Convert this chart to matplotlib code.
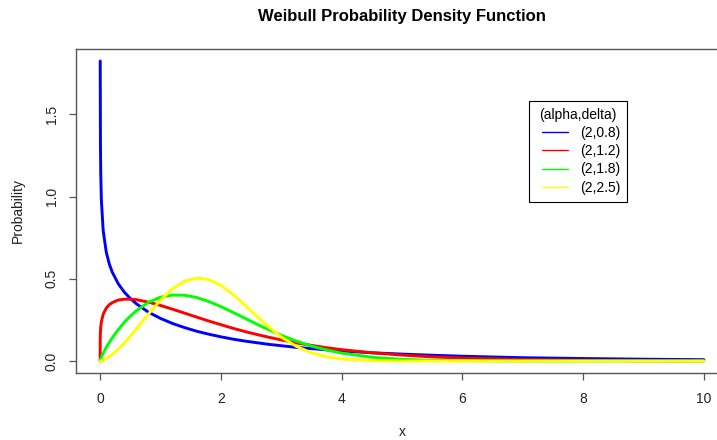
import numpy as np
import matplotlib.pyplot as plt
from matplotlib.lines import Line2D
from matplotlib.legend_handler import HandlerLine2D

plt.rcParams['font.family'] = ['Liberation Sans', 'DejaVu Sans']

# density values, alpha = 2 (scale), delta = shape
x = [0, 0.001, 0.005, 0.01, 0.02, 0.05, 0.1, 0.15, 0.2, 0.3, 0.4, 0.5, 0.6, 0.8,
     1.0, 1.2, 1.4, 1.6, 1.8, 2.0, 2.2, 2.4, 2.6, 2.8, 3.0, 3.25, 3.5, 3.75,
     4.0, 4.5, 5.0, 5.5, 6, 7, 8, 9, 10]

d08 = [np.nan, 1.825, 1.315, 1.138, 0.980, 0.794, 0.665, 0.592, 0.541, 0.470,
       0.419, 0.380, 0.348, 0.297, 0.259, 0.228, 0.203, 0.181, 0.163, 0.147,
       0.133, 0.121, 0.111, 0.101, 0.093, 0.083, 0.075, 0.068, 0.061, 0.050,
       0.042, 0.035, 0.029, 0.020, 0.015, 0.011, 0.008]
d12 = [0, 0.131, 0.181, 0.208, 0.238, 0.284, 0.321, 0.342, 0.355, 0.371,
       0.376, 0.376, 0.373, 0.358, 0.338, 0.315, 0.291, 0.267, 0.243, 0.221,
       0.199, 0.179, 0.161, 0.144, 0.128, 0.110, 0.095, 0.081, 0.069, 0.050,
       0.036, 0.025, 0.018, 0.009, 0.004, 0.002, 0.001]
d18 = [0, 0.002, 0.008, 0.013, 0.023, 0.047, 0.082, 0.112, 0.140, 0.191,
       0.235, 0.273, 0.306, 0.357, 0.388, 0.401, 0.400, 0.386, 0.362, 0.331,
       0.296, 0.260, 0.223, 0.189, 0.156, 0.121, 0.091, 0.067, 0.048, 0.023,
       0.010, 0.004, 0.002, 0.000, 0.000, 0.000, 0.000]
d25 = [0, 0.000, 0.000, 0.000, 0.001, 0.005, 0.014, 0.026, 0.039, 0.072,
       0.110, 0.151, 0.196, 0.286, 0.370, 0.440, 0.486, 0.505, 0.495, 0.460,
       0.405, 0.339, 0.270, 0.204, 0.146, 0.089, 0.050, 0.026, 0.012, 0.002,
       0.000, 0.000, 0.000, 0.000, 0.000, 0.000, 0.000]

labels = ['(2,0.8)', '(2,1.2)', '(2,1.8)', '(2,2.5)']
colors = ['#0000FF', '#FF0000', '#00FF00', '#FFFF00']
xticks = [0, 2, 4, 6, 8, 10]
yticks = [0.0, 0.5, 1.0, 1.5]
ytick_labels = ['0.0', '0.5', '1.0', '1.5']

fig = plt.figure(figsize=(7.17, 4.40), dpi=100)
# plot region runs past the right edge, like the cropped original
ax = fig.add_axes([76/717, 67/440, 652/717, 324/440])

for y, c, lab in zip([d08, d12, d18, d25], colors, labels):
    ax.plot(x, y, color=c, lw=2.1, label=lab,
            solid_capstyle='round', solid_joinstyle='round')

ax.set_xlim(-0.4, 10.4)
ax.set_ylim(-0.073, 1.898)
ax.set_xticks(xticks)
ax.set_yticks(yticks)
ax.set_yticklabels(ytick_labels, rotation=90, va='center')

for s in ax.spines.values():
    s.set_color('#555555')
    s.set_linewidth(1.0)
ax.tick_params(length=5, width=0.9, color='#555555', labelsize=10,
               labelcolor='#222222')
ax.tick_params(axis='x', pad=9)
ax.tick_params(axis='y', pad=7.5)

fig.text(402/717, 1 - 17/440, 'Weibull Probability Density Function',
         ha='center', va='center', fontsize=12, fontweight='bold')
fig.text(402/717, 1 - 432/440, 'x', ha='center', va='center', fontsize=10,
         color='#222222')
fig.text(18/717, 1 - 210/440, 'Probability', ha='center', va='center',
         rotation=90, fontsize=10, color='#222222')

# padded legend keys, as in the R legend
leg = ax.legend(loc='upper left', bbox_to_anchor=(529/717, 1 - 101/440),
                bbox_transform=fig.transFigure, title='(alpha,delta)',
                fontsize=10, title_fontsize=10, frameon=True, fancybox=False,
                edgecolor='black', framealpha=1, borderpad=0.5,
                handlelength=2.75, handletextpad=0.4, labelspacing=0.3,
                borderaxespad=0,
                handler_map={Line2D: HandlerLine2D(marker_pad=0.43, numpoints=2)})
leg.get_frame().set_linewidth(0.8)
for ln in leg.get_lines():
    ln.set_linewidth(1.0)

fig.savefig('out.png', dpi=100)
